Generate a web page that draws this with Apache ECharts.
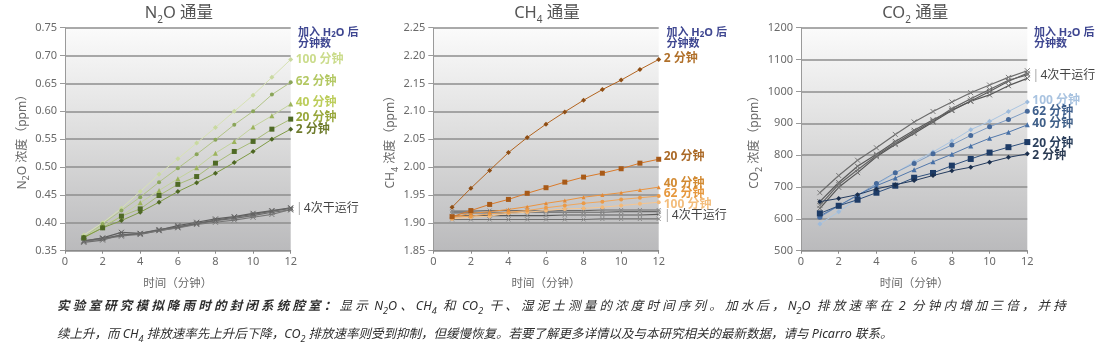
<!DOCTYPE html>
<html><head><meta charset="utf-8">
<script src="https://cdn.jsdelivr.net/npm/echarts@6/dist/echarts.min.js"></script>
<style>html,body{margin:0;padding:0;background:#fff}#c{width:1113px;height:352px}</style>
</head><body><div id="c"></div>
<script>
// ---------- data ----------
const minutes = [1,2,3,4,5,6,7,8,9,10,11,12];

// N2O (ppm)
const n2o_100 = [0.378,0.400,0.426,0.456,0.487,0.515,0.543,0.571,0.600,0.629,0.661,0.693];
const n2o_62  = [0.374,0.398,0.422,0.446,0.473,0.498,0.523,0.549,0.576,0.600,0.630,0.652];
const n2o_40  = [0.374,0.395,0.412,0.436,0.458,0.479,0.499,0.525,0.546,0.572,0.592,0.613];
const n2o_20  = [0.373,0.391,0.412,0.425,0.449,0.469,0.483,0.507,0.528,0.546,0.568,0.586];
const n2o_2   = [0.374,0.391,0.404,0.419,0.437,0.456,0.472,0.489,0.508,0.528,0.550,0.568];
const n2o_dry1 = [0.365,0.369,0.379,0.379,0.386,0.392,0.398,0.404,0.408,0.413,0.419,0.423];
const n2o_dry2 = [0.367,0.373,0.383,0.381,0.387,0.395,0.401,0.407,0.411,0.417,0.422,0.427];
const n2o_dry3 = [0.366,0.371,0.376,0.380,0.386,0.391,0.397,0.401,0.405,0.410,0.415,0.424];
const n2o_dry4 = [0.368,0.372,0.378,0.381,0.388,0.393,0.399,0.405,0.410,0.415,0.421,0.426];

// CH4 (ppm)
const ch4_2   = [1.928,1.962,1.994,2.026,2.053,2.077,2.099,2.120,2.139,2.156,2.175,2.193];
const ch4_20  = [1.911,1.922,1.933,1.942,1.953,1.963,1.973,1.982,1.989,1.997,2.007,2.014];
const ch4_40  = [1.910,1.917,1.920,1.924,1.929,1.935,1.940,1.946,1.950,1.954,1.959,1.964];
const ch4_62  = [1.910,1.912,1.916,1.919,1.922,1.927,1.931,1.935,1.938,1.942,1.945,1.948];
const ch4_100 = [1.907,1.910,1.912,1.917,1.919,1.922,1.925,1.926,1.928,1.931,1.934,1.937];
const ch4_dry1 = [1.921,1.921,1.922,1.922,1.922,1.921,1.922,1.922,1.923,1.923,1.923,1.923];
const ch4_dry2 = [1.918,1.918,1.918,1.918,1.919,1.919,1.919,1.919,1.919,1.920,1.920,1.920];
const ch4_dry3 = [1.912,1.913,1.913,1.913,1.913,1.913,1.914,1.914,1.914,1.914,1.914,1.915];
const ch4_dry4 = [1.906,1.906,1.906,1.906,1.906,1.906,1.906,1.906,1.907,1.907,1.907,1.907];

// CO2 (ppm)
const co2_100 = [584,622,664,707,744,779,810,844,880,906,937,967];
const co2_62  = [605,641,673,711,745,774,804,832,862,889,912,938];
const co2_40  = [609,641,675,704,728,754,779,803,829,853,872,895];
const co2_20  = [617,641,660,682,704,729,744,767,788,808,825,841];
const co2_2   = [654,664,676,694,707,720,736,751,762,778,793,804];
const co2_dry1 = [682,736,784,823,865,904,937,967,996,1020,1044,1065];
const co2_dry2 = [654,714,765,803,843,878,911,941,970,1000,1032,1057];
const co2_dry3 = [642,708,754,799,837,873,907,946,977,1006,1035,1052];
const co2_dry4 = [633,699,745,795,833,868,904,940,969,989,1018,1041];

// text
const titles = ['N{s|2}O 通量', 'CH{s|4} 通量', 'CO{s|2} 通量'];
const yNames = ['N{s|2}O 浓度（ppm）', 'CH{s|4} 浓度（ppm）', 'CO{s|2} 浓度（ppm）'];
const xName = '时间（分钟）';
const header = '加入 H{s|2}O 后\n分钟数';
const dryLabel = '{br||}4次干运行';
const yMin = [0.35, 1.85, 500];
const yMax = [0.75, 2.25, 1200];
const yStep = [0.05, 0.05, 100];
const yDec = [2, 2, 0];
// caption parts: [style, text]  (b = bold, n = normal, s = subscript)
const capLine1 = [['b','实验室研究模拟降雨时的封闭系统腔室：'], ['n','显示 N'], ['s','2'], ['n','O、CH'], ['s','4'],
  ['n',' 和 CO'], ['s','2'], ['n',' 干、湿泥土测量的浓度时间序列。加水后，N'], ['s','2'],
  ['n','O 排放速率在 2 分钟内增加三倍，并持']];
const capLine2 = [['n','续上升，而 CH'], ['s','4'], ['n',' 排放速率先上升后下降，CO'], ['s','2'],
  ['n',' 排放速率则受到抑制，但缓慢恢复。若要了解更多详情以及与本研究相关的最新数据，请与 Picarro 联系。']];

// ---------- layout / style ----------
const FONT = '"Noto Sans", "Noto Sans CJK SC", sans-serif';
const grids = [
  {left: 65, top: 27.7, width: 225.7, height: 223},
  {left: 433.3, top: 27.7, width: 225.4, height: 223},
  {left: 801, top: 27.7, width: 226.3, height: 223}
];
const bg = new echarts.graphic.LinearGradient(0, 0, 0, 1, [
  {offset: 0, color: '#fbfbfb'}, {offset: 0.5, color: '#dcdcdc'}, {offset: 1, color: '#bababc'}
]);
const subRich = {
  s: {fontSize: 9, verticalAlign: 'bottom', lineHeight: 9, padding: [0, 0, -3, 0]},
  br: {fontSize: 13, color: '#aaa', padding: [0, 1, 0, 0]}
};
const XPATH = 'path://M0,0L10,10M0,10L10,0';

function mk(data, gi, o) {
  const s = {
    type: 'line', xAxisIndex: gi, yAxisIndex: gi,
    data: minutes.map((m, i) => [m, data[i]]),
    symbol: o.symbol === 'x' ? XPATH : o.symbol, symbolSize: o.size || 4,
    lineStyle: {color: o.line, width: o.width || 1},
    itemStyle: o.symbol === 'x'
      ? {color: o.mark, borderColor: o.mark, borderWidth: 1}
      : {color: o.mark, borderWidth: 0},
    emphasis: {disabled: true}
  };
  if (o.label) {
    s.endLabel = {
      show: true, formatter: o.label, color: o.labelColor || o.mark,
      fontSize: 12, fontWeight: o.bold === false ? 'normal' : 'bold',
      fontFamily: FONT, distance: 5, offset: [0, o.dy || 0],
      rich: subRich
    };
  }
  return s;
}

const series = [
  // N2O
  mk(n2o_dry1, 0, {symbol:'x', size:5, line:'#6d6d6d', mark:'#6d6d6d', width:1.2}),
  mk(n2o_dry2, 0, {symbol:'x', size:5, line:'#5e5e5e', mark:'#5e5e5e', width:1.2}),
  mk(n2o_dry3, 0, {symbol:'x', size:5, line:'#777777', mark:'#777777', width:1.2}),
  mk(n2o_dry4, 0, {symbol:'x', size:5, line:'#666666', mark:'#666666', width:1.2, label: dryLabel, labelColor:'#444', bold:false, dy:0}),
  mk(n2o_100, 0, {symbol:'diamond', size:5, line:'#d7e2b4', mark:'#c9d9a0', label:'100 分钟', labelColor:'#cbdc8c', dy:0}),
  mk(n2o_62, 0, {symbol:'circle', size:4, line:'#b2c487', mark:'#8aa55a', label:'62 分钟', labelColor:'#b3c863', dy:-1}),
  mk(n2o_40, 0, {symbol:'triangle', size:5, line:'#c3d39c', mark:'#9cb35c', label:'40 分钟', labelColor:'#bccd5a', dy:-1}),
  mk(n2o_20, 0, {symbol:'rect', size:5, line:'#a8bb78', mark:'#4f6a26', label:'20 分钟', labelColor:'#98a73c', dy:-2}),
  mk(n2o_2, 0, {symbol:'diamond', size:5, line:'#7f9a44', mark:'#4d6624', label:'2 分钟', labelColor:'#6e7b2c', dy:0}),
  // CH4
  mk(ch4_dry1, 1, {symbol:'x', size:4, line:'#6a6a6a', mark:'#8a8a8a', width:1.2}),
  mk(ch4_dry2, 1, {symbol:'x', size:4, line:'#6a6a6a', mark:'#8a8a8a', width:1.2}),
  mk(ch4_dry3, 1, {symbol:'x', size:4, line:'#5a5a5a', mark:'#8a8a8a', width:1.2, label: dryLabel, labelColor:'#444', bold:false, dy:1}),
  mk(ch4_dry4, 1, {symbol:'x', size:4, line:'#707070', mark:'#8a8a8a', width:1.2}),
  mk(ch4_100, 1, {symbol:'circle', size:4, line:'#f6c690', mark:'#f2b979', label:'100 分钟', labelColor:'#f3bd7c', dy:2}),
  mk(ch4_62, 1, {symbol:'circle', size:4, line:'#f0a65a', mark:'#eb9b48', label:'62 分钟', labelColor:'#e6983e', dy:-2}),
  mk(ch4_40, 1, {symbol:'triangle', size:4, line:'#eb9440', mark:'#e48a35', label:'40 分钟', labelColor:'#d28a32', dy:-3.5}),
  mk(ch4_20, 1, {symbol:'rect', size:5, line:'#d97a2a', mark:'#a85a18', label:'20 分钟', labelColor:'#ab6a28', dy:-2.5}),
  mk(ch4_2, 1, {symbol:'diamond', size:5, line:'#b2641f', mark:'#8f4e14', label:'2 分钟', labelColor:'#b0702a', dy:-1}),
  // CO2
  mk(co2_dry1, 2, {symbol:'x', size:5, line:'#6c6c6c', mark:'#7a7a7a', width:1.2}),
  mk(co2_dry2, 2, {symbol:'x', size:5, line:'#5a5a5a', mark:'#6a6a6a', width:1.2, label: dryLabel, labelColor:'#444', bold:false, dy:2}),
  mk(co2_dry3, 2, {symbol:'x', size:5, line:'#636363', mark:'#7a7a7a', width:1.2}),
  mk(co2_dry4, 2, {symbol:'x', size:5, line:'#555555', mark:'#6a6a6a', width:1.2}),
  mk(co2_100, 2, {symbol:'diamond', size:5, line:'#aac5e2', mark:'#9dbbdc', label:'100 分钟', labelColor:'#a9c3e0', dy:-1}),
  mk(co2_62, 2, {symbol:'circle', size:5, line:'#7d9cc4', mark:'#46699a', label:'62 分钟', labelColor:'#3e5f8c', dy:0}),
  mk(co2_40, 2, {symbol:'triangle', size:5, line:'#5278ab', mark:'#4770a6', label:'40 分钟', labelColor:'#3f5f88', dy:-1.5}),
  mk(co2_20, 2, {symbol:'rect', size:6, line:'#2e4f7c', mark:'#1d3b66', label:'20 分钟', labelColor:'#2a3f5c', dy:2}),
  mk(co2_2, 2, {symbol:'diamond', size:5, line:'#243b5e', mark:'#1b2f4d', label:'2 分钟', labelColor:'#2a3a52', dy:2})
];

const xAxes = grids.map((g, i) => ({
  type: 'value', gridIndex: i, min: 0, max: 12, interval: 2,
  name: xName, nameLocation: 'middle', nameGap: 27,
  nameTextStyle: {color: '#6a6a6a', fontSize: 11.5, fontFamily: FONT},
  axisLine: {show: true, lineStyle: {color: '#8a8a8a', width: 1}},
  axisTick: {show: true, length: 3, lineStyle: {color: '#8a8a8a'}},
  axisLabel: {color: '#6a6a6a', fontSize: 11, fontFamily: FONT, margin: 6},
  splitLine: {show: false}
}));

const yAxes = grids.map((g, i) => ({
  type: 'value', gridIndex: i, min: yMin[i], max: yMax[i], interval: yStep[i],
  name: yNames[i], nameLocation: 'middle', nameGap: 34,
  nameTextStyle: {color: '#6a6a6a', fontSize: 12, fontFamily: FONT, rich: subRich},
  axisLine: {show: true, lineStyle: {color: '#9a9a9a', width: 1}},
  axisTick: {show: true, length: 5, lineStyle: {color: '#9a9a9a'}},
  axisLabel: {color: '#6a6a6a', fontSize: 11, fontFamily: FONT, margin: 8,
    formatter: v => v.toFixed(yDec[i])},
  splitLine: {show: true, lineStyle: {color: '#8e8e8e', width: 1.5}}
}));

const titleOpts = grids.map((g, i) => ({
  text: titles[i], left: g.left + g.width / 2 - 4, top: 0, textAlign: 'center',
  textStyle: {color: '#555', fontSize: 16.5, fontWeight: 'normal', fontFamily: FONT,
    rich: {s: {fontSize: 10, verticalAlign: 'bottom', lineHeight: 10, padding: [0,0,-4,0], color: '#555'}}}
}));

const headerX = [298, 666.5, 1034];
const graphics = headerX.map(x => ({
  type: 'text', left: x, top: 27,
  style: {text: header, fill: '#3f4791', fontSize: 11, fontWeight: 'bold', fontFamily: FONT, lineHeight: 11.5,
    rich: {s: {fontSize: 8, verticalAlign: 'bottom', lineHeight: 8, padding: [0,0,0,0], fill: '#3f4791', fontWeight: 'bold', fontFamily: FONT}}}
}));

// ---------- caption (line 1 justified to the reference width) ----------
const CAP_FS = 12.5;
const CAP_COL = '#2e2e2e';
const cv = document.createElement('canvas').getContext('2d');
function fontOf(st) {
  if (st === 'b') return 'italic bold ' + CAP_FS + 'px ' + FONT;
  if (st === 's') return 'italic 9px ' + FONT;
  return 'italic ' + CAP_FS + 'px ' + FONT;
}
function runs(t) { // CJK chars one by one, ASCII runs kept together
  return t.match(/[\x00-\x7F]+|[^\x00-\x7F]/g) || [];
}
function capText(parts, targetW) {
  let nat = 0;
  const toks = [];
  parts.forEach(([st, t]) => {
    cv.font = fontOf(st); nat += cv.measureText(t).width;
    runs(t).forEach(r => toks.push([st, r]));
  });
  // no extra space inside chemical formulas (before / on a subscript)
  const spaced = toks.map((tk, i) => tk[0] !== 's' && !(toks[i + 1] && toks[i + 1][0] === 's'));
  const n = spaced.filter(Boolean).length;
  const sp = targetW ? Math.max(0, (targetW - nat) / n) : 0;
  const base = {
    b: {fontWeight: 'bold', fontStyle: 'italic', fontSize: CAP_FS, fontFamily: FONT, fill: CAP_COL},
    n: {fontStyle: 'italic', fontSize: CAP_FS, fontFamily: FONT, fill: CAP_COL},
    s: {fontStyle: 'italic', fontSize: 9, fontFamily: FONT, fill: CAP_COL, verticalAlign: 'bottom', lineHeight: 9}
  };
  const rich = {};
  Object.keys(base).forEach(k => {
    const bot = k === 's' ? -3 : 0;
    rich[k] = Object.assign({}, base[k], {padding: [0, sp, bot, 0]});
    rich[k + '0'] = Object.assign({}, base[k], {padding: [0, 0, bot, 0]});
  });
  const str = toks.map(([st, r], i) => '{' + st + (spaced[i] ? '' : '0') + '|' + r + '}').join('');
  return {text: str, rich: rich};
}
const c1 = capText(capLine1, 1012);
const c2 = capText(capLine2, 0);
graphics.push({type: 'text', left: 57, top: 300,
  style: {text: c1.text, rich: c1.rich, fill: CAP_COL, fontSize: CAP_FS, fontStyle: 'italic', fontFamily: FONT}});
graphics.push({type: 'text', left: 57, top: 328,
  style: {text: c2.text, rich: c2.rich, fill: CAP_COL, fontSize: CAP_FS, fontStyle: 'italic', fontFamily: FONT}});

const chart = echarts.init(document.getElementById('c'), null, {renderer: 'canvas'});
chart.setOption({
  animation: false,
  backgroundColor: '#fff',
  title: titleOpts,
  grid: grids.map(g => Object.assign({show: true, backgroundColor: bg, borderWidth: 0}, g)),
  xAxis: xAxes,
  yAxis: yAxes,
  series: series,
  graphic: graphics
});
</script></body></html>
